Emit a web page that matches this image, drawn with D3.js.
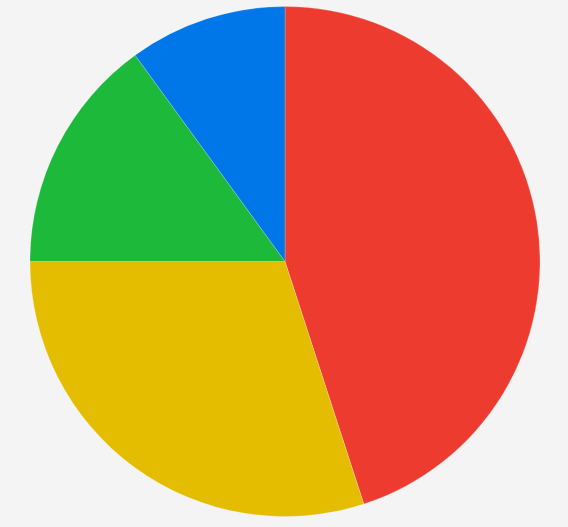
<!DOCTYPE html>
<html>
<head>
<meta charset="utf-8">
<script src="https://cdn.jsdelivr.net/npm/d3@7"></script>
<style>
  html, body { margin: 0; padding: 0; background: #f4f4f4; }
</style>
</head>
<body>
<div id="chart"></div>
<script>
// slice data, clockwise from 12 o'clock
var categories = ['A', 'B', 'C', 'D'];
var values = [45, 30, 15, 10];
var colors = ['#ee3b30', '#e4bc00', '#1cb93a', '#0077e8'];

var W = 568, H = 527;
var CX = 285, CY = 261.5, R = 255;

var svg = d3.select('#chart').append('svg')
  .attr('width', W)
  .attr('height', H);

var pie = d3.pie().sort(null).value(function(d) { return d; });
var arc = d3.arc().innerRadius(0).outerRadius(R);

var g = svg.append('g').attr('transform', 'translate(' + CX + ',' + CY + ')');

g.selectAll('path')
  .data(pie(values))
  .enter().append('path')
  .attr('d', arc)
  .attr('fill', function(d, i) { return colors[i]; })
  .attr('stroke', 'rgba(255,255,255,0.4)')
  .attr('stroke-width', 0.5)
  .append('title')
  .text(function(d, i) { return categories[i] + ': ' + values[i]; });
</script>
</body>
</html>
